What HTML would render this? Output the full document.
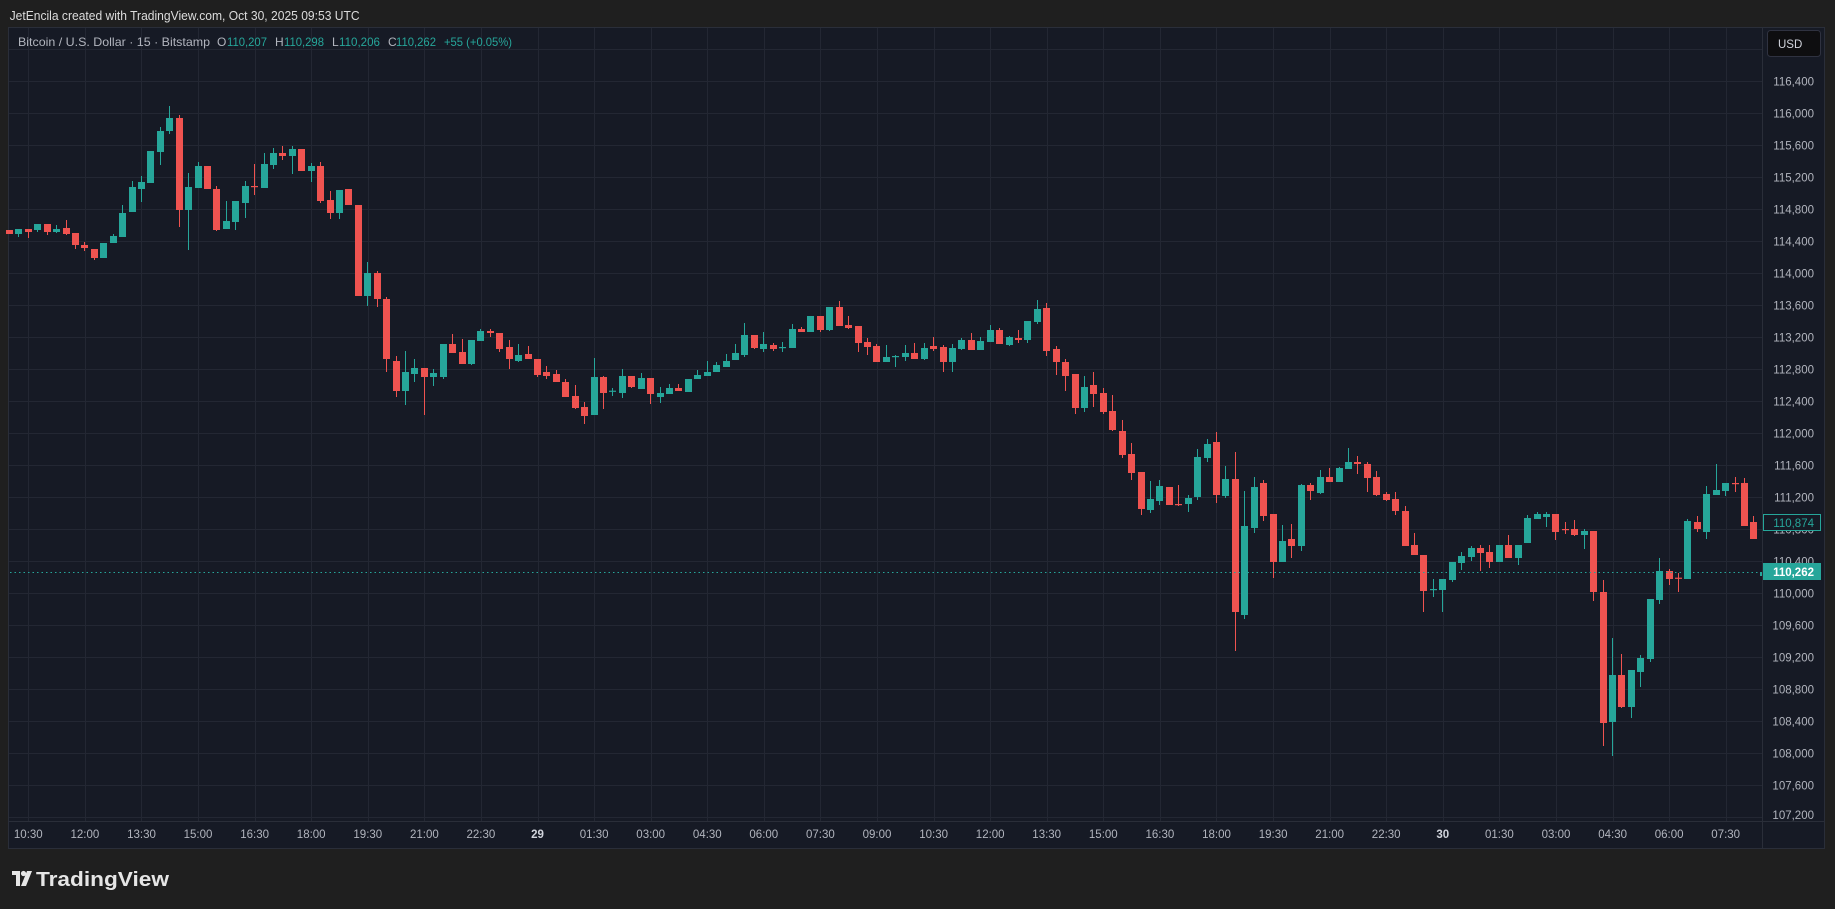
<!DOCTYPE html>
<html><head><meta charset="utf-8"><style>
html,body{margin:0;padding:0;background:#1f1f1f;width:1835px;height:909px;overflow:hidden}
svg{display:block}
text{font-family:"Liberation Sans",sans-serif}
</style></head><body>
<svg id="s" width="1835" height="909" xmlns="http://www.w3.org/2000/svg">
<rect width="1835" height="909" fill="#1f1f1f"/>
<rect x="8.5" y="27.5" width="1816" height="821" fill="#161a25" stroke="#2a2e39"/>
<g id="grid" stroke="#232733" stroke-width="1"></g>
<line x1="1762.5" y1="28" x2="1762.5" y2="848" stroke="#2a2e39"/>
<line x1="9" y1="821.5" x2="1824" y2="821.5" stroke="#2a2e39"/>
<g id="candles"></g>
<line x1="10" y1="572.5" x2="1762" y2="572.5" stroke="#26a69a" stroke-dasharray="1.5,3" stroke-width="1"/>
<text x="9.6" y="20" font-size="13" fill="#dcdcdc" textLength="350" lengthAdjust="spacingAndGlyphs">JetEncila created with TradingView.com, Oct 30, 2025 09:53 UTC</text>
<g font-size="12" lengthAdjust="spacingAndGlyphs">
<text x="18" y="46" fill="#b2b5be" textLength="192" lengthAdjust="spacingAndGlyphs">Bitcoin / U.S. Dollar · 15 · Bitstamp</text>
<text x="217" y="46" fill="#b2b5be">O</text><text x="227" y="46" fill="#26a69a" textLength="40" lengthAdjust="spacingAndGlyphs">110,207</text>
<text x="275" y="46" fill="#b2b5be">H</text><text x="284" y="46" fill="#26a69a" textLength="40" lengthAdjust="spacingAndGlyphs">110,298</text>
<text x="332" y="46" fill="#b2b5be">L</text><text x="339" y="46" fill="#26a69a" textLength="41" lengthAdjust="spacingAndGlyphs">110,206</text>
<text x="388" y="46" fill="#b2b5be">C</text><text x="396" y="46" fill="#26a69a" textLength="40" lengthAdjust="spacingAndGlyphs">110,262</text>
<text x="444" y="46" fill="#26a69a" textLength="68" lengthAdjust="spacingAndGlyphs">+55 (+0.05%)</text>
</g>
<rect x="1767.5" y="30.5" width="53" height="26" rx="3" fill="#0e0e10" stroke="#2f3240"/>
<text x="1778" y="48" font-size="11.5" fill="#d1d4dc">USD</text>
<g font-size="11.5" fill="#b2b5be" text-anchor="end">
<text x="1814" y="85.3">116,400</text>
<text x="1814" y="117.3">116,000</text>
<text x="1814" y="149.3">115,600</text>
<text x="1814" y="181.3">115,200</text>
<text x="1814" y="213.3">114,800</text>
<text x="1814" y="245.3">114,400</text>
<text x="1814" y="277.3">114,000</text>
<text x="1814" y="309.3">113,600</text>
<text x="1814" y="341.3">113,200</text>
<text x="1814" y="373.3">112,800</text>
<text x="1814" y="405.3">112,400</text>
<text x="1814" y="437.3">112,000</text>
<text x="1814" y="469.3">111,600</text>
<text x="1814" y="501.3">111,200</text>
<text x="1814" y="533.3">110,800</text>
<text x="1814" y="565.3">110,400</text>
<text x="1814" y="597.3">110,000</text>
<text x="1814" y="629.3">109,600</text>
<text x="1814" y="661.3">109,200</text>
<text x="1814" y="693.3">108,800</text>
<text x="1814" y="725.3">108,400</text>
<text x="1814" y="757.3">108,000</text>
<text x="1814" y="789.3">107,600</text>
<text x="1814" y="819">107,200</text>
</g>
<rect x="1763.5" y="514.5" width="57" height="16" fill="#161a25" stroke="#26a69a"/>
<text x="1814" y="527" font-size="11.5" fill="#26a69a" text-anchor="end">110,874</text>
<rect x="1763" y="563" width="58" height="17" fill="#26a69a"/>
<text x="1814" y="576" font-size="11.5" font-weight="bold" fill="#ffffff" text-anchor="end">110,262</text>
<g font-size="11.5" fill="#b2b5be" text-anchor="middle">
<text x="28.3" y="838">10:30</text><text x="84.9" y="838">12:00</text><text x="141.5" y="838">13:30</text><text x="198" y="838">15:00</text><text x="254.6" y="838">16:30</text><text x="311.2" y="838">18:00</text><text x="367.8" y="838">19:30</text><text x="424.4" y="838">21:00</text><text x="480.9" y="838">22:30</text><text x="537.5" y="838" font-weight="bold" fill="#d1d4dc">29</text><text x="594.1" y="838">01:30</text><text x="650.7" y="838">03:00</text><text x="707.3" y="838">04:30</text><text x="763.8" y="838">06:00</text><text x="820.4" y="838">07:30</text><text x="877" y="838">09:00</text><text x="933.6" y="838">10:30</text><text x="990.2" y="838">12:00</text><text x="1046.7" y="838">13:30</text><text x="1103.3" y="838">15:00</text><text x="1159.9" y="838">16:30</text><text x="1216.5" y="838">18:00</text><text x="1273.1" y="838">19:30</text><text x="1329.7" y="838">21:00</text><text x="1386.2" y="838">22:30</text><text x="1442.8" y="838" font-weight="bold" fill="#d1d4dc">30</text><text x="1499.4" y="838">01:30</text><text x="1556" y="838">03:00</text><text x="1612.6" y="838">04:30</text><text x="1669.1" y="838">06:00</text><text x="1725.7" y="838">07:30</text>
</g>
<g fill="#e6e6e6">
<rect x="12" y="871" width="8" height="4"/><rect x="16" y="871" width="4" height="15"/>
<circle cx="23.5" cy="873.5" r="2.6"/>
<polygon points="27,871 32,871 26,886 21,886"/>
</g>
<text x="36" y="886" font-size="20" font-weight="bold" fill="#e6e6e6" textLength="133" lengthAdjust="spacingAndGlyphs">TradingView</text>
</svg>
<script>
(function(){
var NS="http://www.w3.org/2000/svg";
var g=document.getElementById('grid');
function ln(x1,y1,x2,y2,p){var l=document.createElementNS(NS,'line');l.setAttribute('x1',x1);l.setAttribute('y1',y1);l.setAttribute('x2',x2);l.setAttribute('y2',y2);p.appendChild(l);}
for(var k=0;k<=30;k++){var x=Math.round(28.3+56.58*k)+0.5;ln(x,28,x,821,g);}
for(var p=116800;p>=107200;p-=400){var y=Math.round(113.3+(116000-p)*0.08)+0.5;ln(9,y,1762,y,g);}
var segs=[
[90,-2,"r 420 432 420 432|g 417 432 417 441|r 417 426 417 444|g 402 420 402 426|r 402 426 402 435|g 417 426 405 429|r 414 432 390 435|r 429 465 429 477|r 465 474 456 483|r 477 504 477 510|g 459 504 459 504|g 438 459 432 459|g 369 441 345 441|g 291 366 273 366|g 276 297 258 336|g 183 279 183 279|g 123 186 111 225|g 84 123 48 132|r 84 360 75 411|g 291 360 249 480|g 228 294 216 294|r 228 297 228 297|r 297 420 288 423|g 393 417 333 417|g 333 396 333 420|g 288 339 273 384|r 288 291 222 315|g 222 294 189 294|g 189 225 174 237|r 189 198 168 210|g 177 198 168 252|r 177 243 177 243|g 228 243 219 276|r 228 333 216 339|r 330 369 303 387|g 300 369 300 387|r 297 345 297 345|r 345 618 345 618|g 549 618 516 648|r 549 627 543 651"],
[280,38,"r 57 237 51 276|r 243 333 228 351|g 276 333 213 375|g 264 282 237 306|r 264 291 264 405|g 279 291 267 318|g 192 291 192 297|r 192 219 162 219|r 216 252 177 252|g 180 252 180 255|g 153 183 147 183|r 153 159 147 171|r 159 207 159 216|r 201 237 180 267|g 225 243 192 246|r 222 237 198 237|r 237 285 237 291|r 276 288 258 297|r 282 306 270 306|r 306 351 297 351|r 348 384 315 387|r 381 408 366 432|g 291 405 234 405|r 291 339 288 387|g 332 334 324 348|g 288 339 267 354|r 288 321 288 324|g 294 327 279 327|r 294 342 294 372|g 339 351 321 369|g 324 342 312 342|r 324 333 312 333|g 297 336 297 336|g 285 297 270 297|g 276 288 243 288|g 255 276 246 276|g 243 261 222 261|g 219 240 192 240|g 165 225 129 231"],
[280,77,"r 165 204 165 207|g 192 207 156 216|r 195 207 189 213|g 201 203 186 216|g 147 204 132 204|r 147 156 141 156|g 108 156 108 156|r 108 150 108 156|g 81 150 81 153|r 81 138 63 138|r 135 144 108 147|r 138 189 138 216|r 186 201 174 225|r 198 246 192 246|g 231 246 195 246|g 228 230 225 261|g 219 231 195 243|r 219 237 189 237|g 204 237 189 240|r 198 207 171 213|r 201 246 195 276|g 204 246 192 276|g 180 207 174 210|r 180 210 159 210|g 183 210 171 210|g 150 186 135 186|r 150 192 144 192|g 171 195 168 198|r 174 180 150 189|g 123 180 123 189|g 87 126 60 132|r 84 213 69 228|r 207 246 198 285|r 246 288 237 333|r 282 384 282 402|g 321 384 288 396|r 315 342 276 381|r 339 396 324 402|r 393 450 345 453"],
[420,116,"r 33 105 0 114|r 102 159 69 180|r 156 267 156 285|g 237 270 183 279|g 198 243 180 255|r 201 255 201 255|r 252 254 195 258|g 234 252 225 276|g 111 231 87 240|g 72 114 57 126|r 66 225 36 249|g 177 228 138 234|r 177 576 96 693|g 318 585 213 597|g 201 324 171 339|r 189 288 180 303|r 282 426 282 474|g 363 426 315 426|r 357 378 312 414|g 195 378 192 393|r 195 213 189 240|g 171 219 150 222|r 171 186 144 186|g 144 186 141 186|g 126 147 84 147|r 126 132 108 162|r 132 174 126 216|r 171 225 153 228|r 222 240 216 243|r 237 273 216 285|r 273 378 258 378|r 375 405 339 405|r 405 513 405 576|g 507 509 477 531"],
[440,150,"g 417 450 417 516|g 366 420 366 426|g 348 369 336 390|g 324 351 318 363|r 324 339 315 393|r 336 366 315 384|g 315 366 315 366|r 315 354 285 354|g 315 354 315 375|g 234 309 225 309|g 222 237 216 237|g 222 231 216 261|r 222 276 222 300|r 267 269 246 282|r 267 285 240 288|g 273 285 267 327|r 273 456 273 483|r 456 849 420 918|g 705 846 594 948|r 705 801 642 804|g 690 801 690 834|g 654 696 645 741|g 477 657 477 666|g 393 480 354 492|r 393 417 387 435|r 413 415 399 456|g 243 417 237 417|r 246 267 228 276|g 162 276 138 297|g 150 165 72 165|g 129 153 129 168|r 129 131 111 156|r 129 258 114 258|r 246 297 228 297|g 396 408 393 411"]
];
var c=document.getElementById('candles');
segs.forEach(function(sg){
 var y0=sg[0],i=sg[1];
 sg[2].split('|').forEach(function(e){
  var a=e.split(' '),col=a[0]=='g'?'#26a69a':'#ef5350';
  var bt=y0+a[1]/3,bb=y0+a[2]/3,wt=y0+a[3]/3,wb=y0+a[4]/3;
  var x=28.3+i*9.43;
  if(x<1766){
   var xl=Math.round(x-3.5),xr=Math.min(xl+7,1762);
   if(xr>xl){
   var r=document.createElementNS(NS,'rect');
   r.setAttribute('x',xl);r.setAttribute('width',xr-xl);
   var h=Math.max(bb-bt,1.2);r.setAttribute('y',bt);r.setAttribute('height',h);r.setAttribute('fill',col);c.appendChild(r);}
   var xc=Math.round(x-3.5)+3;
   if(xc<1762){
   var w=document.createElementNS(NS,'rect');w.setAttribute('x',xc);w.setAttribute('width',1);w.setAttribute('y',wt);w.setAttribute('height',Math.max(wb-wt,1));w.setAttribute('fill',col);c.appendChild(w);}
  }
  i++;
 });
});
})();
</script>
</body></html>
